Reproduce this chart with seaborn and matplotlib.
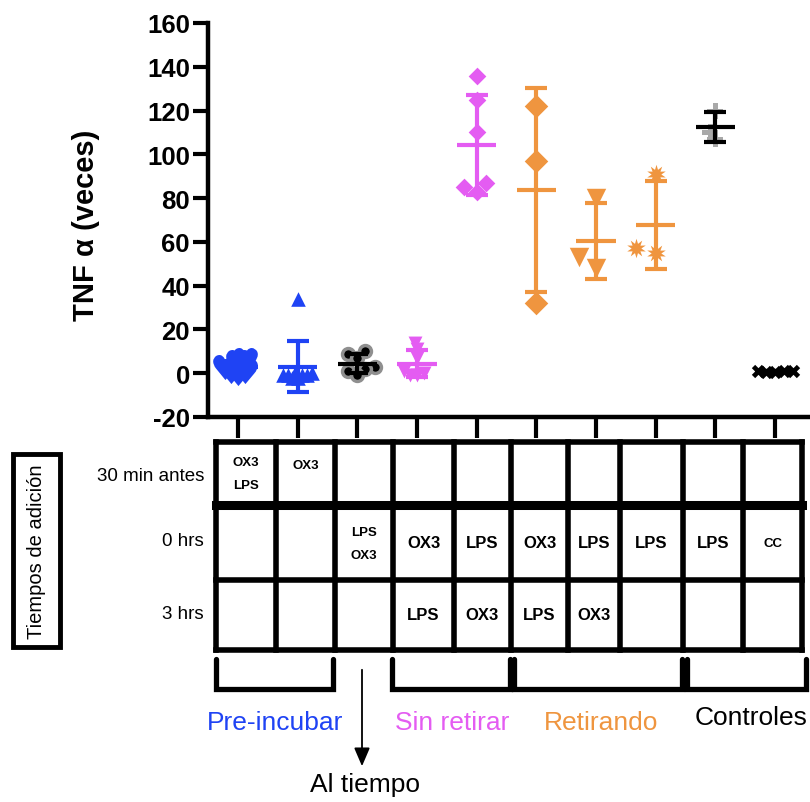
import warnings
warnings.filterwarnings("ignore")
import numpy as np
import pandas as pd
import matplotlib
matplotlib.use("Agg")
import matplotlib.pyplot as plt
import seaborn as sns
from matplotlib.markers import MarkerStyle
from matplotlib.transforms import Affine2D
from matplotlib.patches import Rectangle

sns.set_style("white")
plt.rcParams['font.family'] = ['Liberation Sans', 'DejaVu Sans']
plt.rcParams['text.color'] = 'black'
plt.rcParams['axes.labelcolor'] = 'black'
plt.rcParams['xtick.color'] = 'black'
plt.rcParams['ytick.color'] = 'black'
plt.rcParams['axes.unicode_minus'] = False

# ---------------- data ----------------
categories = ["Pre OX3+LPS", "Pre OX3", "LPS+OX3 0h", "OX3 0h LPS 3h", "LPS 0h OX3 3h",
              "OX3 0h LPS 3h ret", "LPS 0h OX3 3h ret", "LPS ret", "LPS", "CC"]
g_pre_ox3_lps = [6, 5, 3, 1, 1, 0]
g_pre_ox3 = [34, 0, -1, -1, -2, -1, -1, -2, 0]
g_al_tiempo = [10, 9, 7, 3, 2, 1, -1]
g_sin_ox3_lps = [14, 11, 7, 1, 0, -1, -1]
g_sin_lps_ox3 = [136, 125, 110, 87, 85, 83]
g_ret_ox3_lps = [122, 97, 32]
g_ret_lps_ox3 = [80, 53, 48]
g_ret_lps = [91, 57, 55]
g_lps = [120, 110, 107]
g_cc = [1, 1, 0.5, 0.5, 1]
values = [g_pre_ox3_lps, g_pre_ox3, g_al_tiempo, g_sin_ox3_lps, g_sin_lps_ox3,
          g_ret_ox3_lps, g_ret_lps_ox3, g_ret_lps, g_lps, g_cc]

yticks = [-20, 0, 20, 40, 60, 80, 100, 120, 140, 160]
row_labels = ["30 min antes", "0 hrs", "3 hrs"]
row1 = ["OX3\nLPS", "OX3", "", "", "", "", "", "", "", ""]
row2 = ["", "", "LPS\nOX3", "OX3", "LPS", "OX3", "LPS", "LPS", "LPS", "CC"]
row3 = ["", "", "", "LPS", "OX3", "LPS", "OX3", "", "", ""]
bracket_labels = ["Pre-incubar", "Sin retirar", "Retirando", "Controles"]

df = pd.DataFrame({"grupo": np.repeat(categories, [len(v) for v in values]),
                   "valor": np.concatenate(values)})

# ---------------- styles ----------------
BLUE = "#1f43f4"
MAG = "#e45cf2"
ORA = "#ef953f"
GREY = "#a9a9a9"

def mk(m, sc):
    return MarkerStyle(m, transform=Affine2D().scale(sc))

styles = [
    dict(marker=mk("$♥$", 3.6), size=5, color=BLUE, linewidth=0),
    dict(marker=mk("^", 3.0), size=3.5, color=BLUE, linewidth=0),
    dict(marker=mk("o", 1.9), size=4.5, color="black", edgecolor="#8f8f8f", linewidth=2.5),
    dict(marker=mk("v", 2.0), size=5, color=MAG, linewidth=0),
    dict(marker=mk("D", 1.0), size=9, color=MAG, linewidth=0),
    dict(marker=mk("D", 1.0), size=12, color=ORA, linewidth=0),
    dict(marker=mk("v", 1.0), size=14, color=ORA, linewidth=0),
    dict(marker=mk((10, 1, 0), 1.0), size=14, color=ORA, linewidth=0),
    dict(marker=mk("P", 1.8), size=6, color=GREY, linewidth=0),
    dict(marker=mk("X", 1.6), size=6, color="black", linewidth=0),
]
line_colors = [BLUE, BLUE, "black", MAG, MAG, ORA, ORA, ORA, "black", "black"]

fig = plt.figure(figsize=(8.1, 8.03), dpi=100)
W, H = 810, 803
ax = fig.add_axes([208 / W, 1 - 418 / H, 600 / W, 394 / H])

for cat, st in zip(categories, styles):
    sub = df[df["grupo"] == cat]
    sns.swarmplot(data=sub, x="grupo", y="valor", order=categories, ax=ax,
                  zorder=3, **st)

stats = df.groupby("grupo", sort=False)["valor"].agg(["mean", "std"]).reindex(categories)
for i, (cat, col) in enumerate(zip(categories, line_colors)):
    m, s = stats.loc[cat, "mean"], stats.loc[cat, "std"]
    ax.errorbar(i, m, yerr=s, fmt="none", ecolor=col, elinewidth=3,
                capsize=8, capthick=3, zorder=4)
    ax.hlines(m, i - 0.33, i + 0.33, color=col, lw=3, zorder=4)

ax.set_xlim(-0.5, 9.55)
ax.set_ylim(-20, 160)
ax.set_yticks(yticks)
ax.set_xticks(range(len(categories)))
ax.set_xticklabels([])
ax.set_xlabel("")
ax.set_ylabel("")
for t in ax.get_yticklabels():
    t.set_fontweight("bold")
    t.set_fontsize(18.5)
sns.despine(ax=ax)
for sp in ["left", "bottom"]:
    ax.spines[sp].set_linewidth(3.2)
    ax.spines[sp].set_color("black")
ax.tick_params(axis="y", direction="out", length=11, width=3, pad=2, left=True)
ax.tick_params(axis="x", direction="out", length=15, width=3, bottom=True)

fig.text(86 / W, 1 - 225 / H, "TNF α (veces)", rotation=90, ha="center", va="center",
         fontsize=21, fontweight="bold")

# ---------------- overlay (table, brackets, labels) ----------------
ov = fig.add_axes([0, 0, 1, 1], facecolor="none")
ov.set_xlim(0, W)
ov.set_ylim(H, 0)
ov.axis("off")

xb = [216, 276, 335, 393, 454, 511, 568, 620, 683, 743, 802]
yb = [443, 506, 581, 651]
lw_t = 4
for x in xb:
    ov.plot([x, x], [yb[0], yb[-1]], color="black", lw=lw_t, solid_capstyle="projecting")
for j, y in enumerate(yb):
    ov.plot([xb[0], xb[-1]], [y, y], color="black", lw=6.5 if j == 1 else lw_t,
            solid_capstyle="projecting")

for r, (row, yc) in enumerate(zip([row1, row2, row3], [474, 544, 616])):
    for c, txt in enumerate(row):
        if not txt:
            continue
        xc = (xb[c] + xb[c + 1]) / 2
        if "\n" in txt:
            a, b = txt.split("\n")
            ov.text(xc, yc - 11, a, ha="center", va="center", fontsize=9.5, fontweight="bold")
            ov.text(xc, yc + 12, b, ha="center", va="center", fontsize=9.5, fontweight="bold")
        else:
            fs = 9.5 if (r == 0 or txt == "CC") else 12
            yy = yc - 8 if r == 0 else yc
            ov.text(xc, yy, txt, ha="center", va="center", fontsize=fs, fontweight="bold")

for lab, yc in zip(row_labels, [477, 542, 615]):
    ov.text(204, yc, lab, ha="right", va="center", fontsize=13.5)

ov.add_patch(Rectangle((13, 455), 47, 193, fill=False, lw=3.5, ec="black"))
ov.text(37, 552, "Tiempos de adición", rotation=90, ha="center", va="center", fontsize=14.5)

brackets = [(216, 333), (392, 510), (514, 682), (687, 806)]
for (x0, x1) in brackets:
    ov.plot([x0, x0, x1, x1], [660, 690, 690, 660], color="black", lw=3.8,
            solid_joinstyle="miter")

lab_cols = [BLUE, MAG, ORA, "black"]
lab_pos = [(275, 723), (452, 723), (601, 723), (751, 718)]
for lab, col, (x, y) in zip(bracket_labels, lab_cols, lab_pos):
    ov.text(x, y, lab, ha="center", va="center", fontsize=19, color=col)

ov.annotate("", xy=(362, 770), xytext=(362, 668),
            arrowprops=dict(arrowstyle="-|>,head_length=0.7,head_width=0.3",
                            lw=1.3, color="black", mutation_scale=16))
ov.text(365, 785, "Al tiempo", ha="center", va="center", fontsize=19)

fig.savefig("out.png", dpi=100)
